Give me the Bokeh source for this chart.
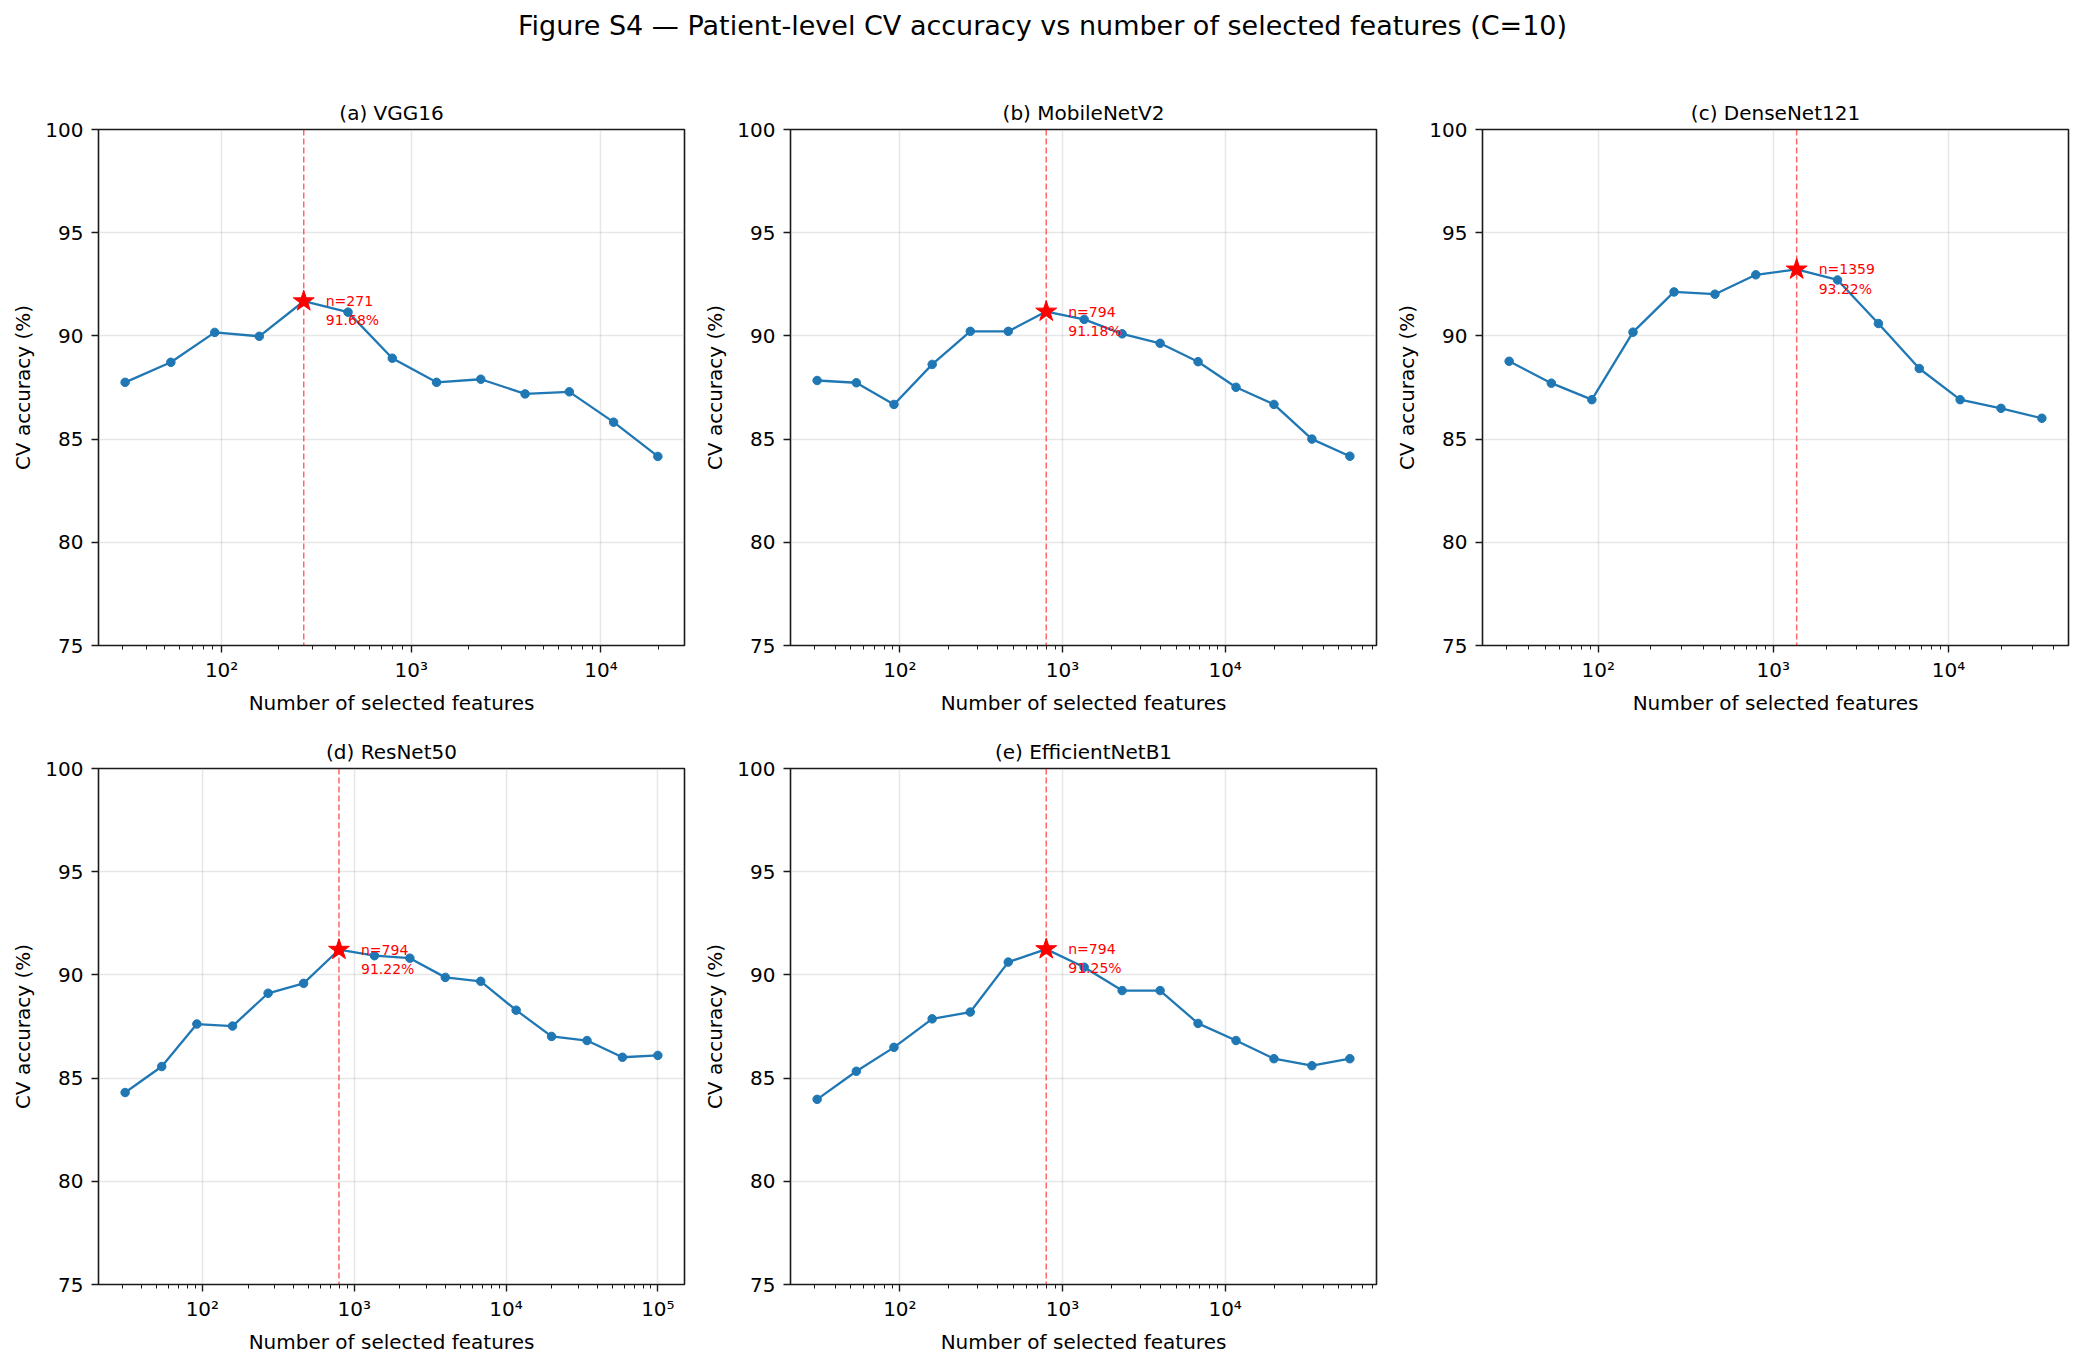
import math
from bokeh.plotting import figure
from bokeh.models import Range1d, FixedTicker, CustomJSTickFormatter, Span, ColumnDataSource
from bokeh.layouts import column, row
from bokeh.core.properties import value
from bokeh.embed import file_html
from bokeh.resources import INLINE

# ---------------- data ----------------
n_features = [31, 54, 92, 158, 271, 464, 794, 1359, 2326, 3981, 6812, 11659, 19952, 34145, 58434, 100000]

vgg16 = [87.75, 88.72, 90.17, 89.98, 91.68, 91.15, 88.92, 87.75, 87.90, 87.19, 87.29, 85.82, 84.16]
mobilenetv2 = [87.84, 87.73, 86.68, 88.62, 90.22, 90.22, 91.18, 90.80, 90.10, 89.64, 88.75, 87.51, 86.68, 85.00, 84.17]
densenet121 = [88.77, 87.71, 86.91, 90.18, 92.13, 92.02, 92.96, 93.22, 92.71, 90.60, 88.42, 86.91, 86.49, 86.01]
resnet50 = [84.30, 85.56, 87.62, 87.52, 89.11, 89.59, 91.22, 90.93, 90.81, 89.88, 89.69, 88.29, 87.02, 86.82, 86.01, 86.10]
efficientnetb1 = [83.97, 85.33, 86.49, 87.87, 88.20, 90.62, 91.25, 90.37, 89.24, 89.24, 87.65, 86.82, 85.94, 85.60, 85.94]

panel_titles = ["(a) VGG16", "(b) MobileNetV2", "(c) DenseNet121", "(d) ResNet50", "(e) EfficientNetB1"]
panel_series = [vgg16, mobilenetv2, densenet121, resnet50, efficientnetb1]
y_ticks = [75, 80, 85, 90, 95, 100]
suptitle = "Figure S4 \u2014 Patient-level CV accuracy vs number of selected features (C=10)"
x_label = "Number of selected features"
y_label = "CV accuracy (%)"

FONT = "DejaVu Sans"
BLUE = "#1f77b4"

major_x = [10.0 ** k for k in range(1, 7)]
minor_x = [m * 10.0 ** k for k in range(1, 6) for m in range(2, 10)]

sup_code = """
const sup = {'0':'\u2070','1':'\u00b9','2':'\u00b2','3':'\u00b3','4':'\u2074','5':'\u2075','6':'\u2076','7':'\u2077','8':'\u2078','9':'\u2079','-':'\u207b'};
const e = Math.round(Math.log10(tick));
return '10' + String(e).split('').map(c => sup[c]).join('');
"""


def make_panel(title, ys, width, height, lb, rb, tb, bb):
    xs = n_features[:len(ys)]
    lo = math.log10(xs[0])
    hi = math.log10(xs[-1])
    span = hi - lo
    xr = Range1d(10 ** (lo - 0.05 * span), 10 ** (hi + 0.05 * span))
    p = figure(width=width, height=height, x_axis_type="log", x_range=xr,
               y_range=Range1d(75, 100), output_backend="svg", toolbar_location=None,
               min_border_left=lb, min_border_right=rb, min_border_top=tb, min_border_bottom=bb,
               title=title)
    p.title.text_font = FONT
    p.title.text_font_size = "20px"
    p.title.text_font_style = "normal"
    p.title.align = "center"
    p.title.text_color = "black"
    p.title.standoff = 9

    p.outline_line_color = "#1a1a1a"
    p.outline_line_width = 1.6
    p.outline_line_alpha = 1.0

    for ax in (p.xaxis[0], p.yaxis[0]):
        ax.axis_line_color = None
        ax.major_tick_line_color = "#1a1a1a"
        ax.major_tick_line_width = 1.4
        ax.major_tick_out = 7
        ax.major_tick_in = 0
        ax.minor_tick_line_color = "#1a1a1a"
        ax.minor_tick_line_width = 1.0
        ax.minor_tick_out = 4
        ax.minor_tick_in = 0
        ax.major_label_text_font = FONT
        ax.major_label_text_font_size = "20px"
        ax.major_label_text_color = "black"
        ax.axis_label_text_font = FONT
        ax.axis_label_text_font_size = "20px"
        ax.axis_label_text_font_style = "normal"
        ax.axis_label_text_color = "black"

    p.xaxis.ticker = FixedTicker(ticks=major_x, minor_ticks=minor_x)
    p.xaxis.formatter = CustomJSTickFormatter(code=sup_code)
    p.xaxis.major_label_standoff = 5
    p.xaxis.axis_label = x_label
    p.xaxis.axis_label_standoff = 6

    p.yaxis.ticker = FixedTicker(ticks=y_ticks)
    p.yaxis.minor_tick_line_color = None
    p.yaxis.major_label_standoff = 8
    p.yaxis.axis_label = y_label
    p.yaxis.axis_label_standoff = 7

    for g in (p.xgrid[0], p.ygrid[0]):
        g.grid_line_color = "#b0b0b0"
        g.grid_line_alpha = 0.3
        g.grid_line_width = 1.5

    best_i = max(range(len(ys)), key=lambda i: ys[i])
    best_n = xs[best_i]
    best_y = ys[best_i]

    vline = Span(location=best_n, dimension="height", line_color="red", line_alpha=0.6,
                 line_width=1.5, line_dash="6 3", level="underlay")
    p.add_layout(vline)

    src = ColumnDataSource(dict(x=xs, y=ys))
    p.line("x", "y", source=src, line_color=BLUE, line_width=2.3)
    p.scatter("x", "y", source=src, marker="circle", size=8.5, fill_color=BLUE, line_color=BLUE)

    best = ColumnDataSource(dict(x=[best_n], y=[best_y], label=["n=%d\n%.2f%%" % (best_n, best_y)]))
    p.scatter("x", "y", source=best, marker="star", size=22, fill_color="red", line_color="red")
    p.text("x", "y", text="label", source=best, x_offset=22, y_offset=-8,
           text_font=value(FONT), text_font_size="14px", text_color="red",
           text_align="left", text_baseline="top", text_line_height=1.2)
    return p


# ---------------- super title ----------------
tp = figure(width=2082, height=60, x_range=Range1d(0, 1), y_range=Range1d(0, 1),
            output_backend="svg", toolbar_location=None,
            min_border_left=0, min_border_right=0, min_border_top=0, min_border_bottom=0,
            x_axis_type=None, y_axis_type=None)
tp.outline_line_color = None
tp.grid.visible = False
tsrc = ColumnDataSource(dict(x=[1042 / 2082], y=[1 - 25 / 60], t=[suptitle]))
tp.text("x", "y", text="t", source=tsrc, text_font=value(FONT), text_font_size="27px",
        text_color="black", text_align="center", text_baseline="alphabetic")

pa = make_panel(panel_titles[0], panel_series[0], 692, 665, 98, 8, 69, 80)
pb = make_panel(panel_titles[1], panel_series[1], 692, 665, 98, 8, 69, 80)
pc = make_panel(panel_titles[2], panel_series[2], 698, 665, 98, 14, 69, 80)
pd_ = make_panel(panel_titles[3], panel_series[3], 692, 634, 98, 8, 43, 75)
pe = make_panel(panel_titles[4], panel_series[4], 692, 634, 98, 8, 43, 75)

layout = column(tp, row(pa, pb, pc, spacing=0), row(pd_, pe, spacing=0), spacing=0)

open("out.html", "w").write(file_html(layout, INLINE))
